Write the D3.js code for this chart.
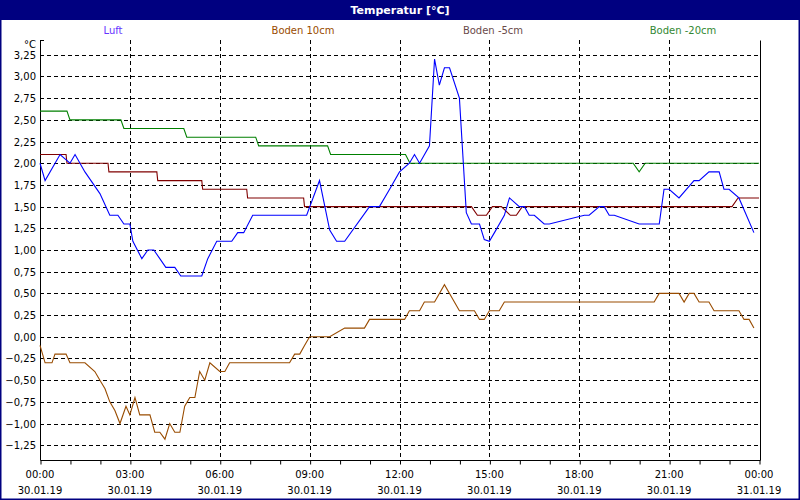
<!DOCTYPE html>
<html><head><meta charset="utf-8">
<script src="https://cdn.jsdelivr.net/npm/d3@7"></script>
<style>
body{margin:0;background:#fff}
svg{display:block;font-family:Tahoma,"DejaVu Sans",sans-serif}
</style></head><body>
<svg id="c" width="800" height="500"></svg>
<script>
// x positions in hours since 30.01.19 00:00
const luftT = [0,0.17,0.67,1,1.17,1.5,2,2.33,2.6,2.8,3,3.1,3.4,3.6,3.8,4.2,4.5,4.7,5.4,5.6,5.9,6.4,6.6,6.8,7.1,8.9,9.33,9.67,9.9,10.17,11,11.33,11.67,12,12.33,12.5,12.67,13,13.17,13.33,13.5,13.67,14,
  14.23,14.4,14.67,14.83,15,15.17,15.5,15.67,16,16.17,16.33,16.5,16.83,17,18.17,18.33,18.67,18.83,19,19.17,20,20.67,20.83,21,21.33,21.83,22,22.33,22.67,22.83,23,23.33,23.83];
const luftV = [2.0,1.8,2.1,2.0,2.1,1.9,1.65,1.4,1.4,1.3,1.3,1.1,0.9,1.0,1.0,0.8,0.8,0.7,0.7,0.9,1.1,1.1,1.2,1.2,1.4,1.4,1.8,1.23,1.1,1.1,1.5,1.5,1.7,1.9,2.0,2.1,2.0,2.2,3.2,2.9,3.1,3.1,2.75,1.43,
  1.3,1.3,1.12,1.1,1.2,1.4,1.6,1.5,1.5,1.4,1.4,1.3,1.3,1.4,1.4,1.5,1.5,1.4,1.4,1.3,1.3,1.7,1.7,1.6,1.8,1.8,1.9,1.9,1.7,1.7,1.6,1.2,0.3];

const b10T = [0,0.17,0.4,0.5,0.87,1,1.5,1.83,2,2.17,2.33,2.5,2.5,2.67,2.87,3,3.17,3.33,3.67,3.83,4,4.17,4.33,4.5,4.67,4.83,5,5.17,5.33,5.5,5.67,6,6.17,6.33,8.33,8.5,8.67,8.83,9,9.67,10.17,10.83,11,12.17,12.33,12.67,12.83,13.17,13.5,14,14.5,14.67,14.83,15,15.33,15.5,20.5,20.67,21.33,21.5,21.67,21.83,22,22.33,22.5,23.33,23.5,23.67,23.83];
const b10V = [-0.1,-0.3,-0.3,-0.2,-0.2,-0.3,-0.3,-0.4,-0.5,-0.6,-0.75,-0.85,-0.85,-1.0,-0.8,-0.9,-0.7,-0.9,-0.9,-1.1,-1.1,-1.18,-1.0,-1.1,-1.1,-0.8,-0.7,-0.7,-0.4,-0.5,-0.3,-0.4,-0.4,-0.3,-0.3,-0.2,-0.2,-0.1,0.0,0.0,0.1,0.1,0.2,0.2,0.3,0.3,0.4,0.4,0.6,0.3,0.3,0.2,0.2,0.3,0.3,0.4,0.4,0.5,0.5,0.4,0.5,0.5,0.4,0.4,0.3,0.3,0.2,0.2,0.1];

const b5T = [0,0.87,0.9,2.27,2.3,3.9,3.93,5.4,5.43,6.9,6.93,8.8,8.83,14.4,14.6,14.9,15.1,15.4,15.7,15.9,16.1,23.1,23.3,24];
const b5V = [2.1,2.1,2.0,2.0,1.9,1.9,1.8,1.8,1.7,1.7,1.6,1.6,1.5,1.5,1.4,1.4,1.5,1.5,1.4,1.4,1.5,1.5,1.6,1.6];

const b20T = [0,0.9,1.0,2.7,2.8,4.8,4.9,7.2,7.3,9.6,9.7,12.2,12.35,19.8,20.0,20.2,24];
const b20V = [2.6,2.6,2.5,2.5,2.4,2.4,2.3,2.3,2.2,2.2,2.1,2.1,2.0,2.0,1.9,2.0,2.0];

const seriesNames = ["Luft","Boden 10cm","Boden -5cm","Boden -20cm"];
const seriesColors = ["#0000ff","#994c00","#800000","#008000"];
const labelColors = ["#6633ff","#994c00","#6a4a4a","#338833"];
const xTicks = [0,3,6,9,12,15,18,21,24];
const yTicks = d3.range(-1.25, 3.26, 0.25);

const svg = d3.select("#c");
const x = d3.scaleLinear().domain([0,24]).range([40,759]);
const y = d3.scaleLinear().domain([-1.42,3.42]).range([460,40]);

// window frame
svg.append("rect").attr("x",0.5).attr("y",0.5).attr("width",799).attr("height",499)
  .attr("fill","#fff").attr("stroke","#000080").attr("stroke-width",2);
svg.append("rect").attr("x",0).attr("y",0).attr("width",800).attr("height",20).attr("fill","#000080");
svg.append("text").attr("x",400).attr("y",14).attr("text-anchor","middle")
  .attr("fill","#fff").attr("font-size",11).attr("font-weight","bold").text("Temperatur [°C]");

// legend
seriesNames.forEach((n,i) => {
  svg.append("text").attr("x",113 + i*190).attr("y",34).attr("text-anchor","middle")
    .attr("font-size",10).attr("fill",labelColors[i]).text(n);
});

// grid
const g = svg.append("g");
g.selectAll(".hg").data(yTicks).enter().append("line")
  .attr("x1",40).attr("x2",760).attr("y1",d=>Math.round(y(d))+0.5).attr("y2",d=>Math.round(y(d))+0.5)
  .attr("stroke","#000").attr("stroke-dasharray","4,3");
g.selectAll(".vg").data(xTicks.slice(1,-1)).enter().append("line")
  .attr("y1",40).attr("y2",460).attr("x1",d=>Math.round(x(d))+0.5).attr("x2",d=>Math.round(x(d))+0.5)
  .attr("stroke","#000").attr("stroke-dasharray","4,3");

// frame lines
svg.append("path").attr("d","M40.5,40.5V460.5H760.5V40.5").attr("fill","none").attr("stroke","#000");
svg.append("line").attr("x1",40).attr("x2",44).attr("y1",40.5).attr("y2",40.5).attr("stroke","#000");

// y axis labels
svg.selectAll(".yl").data(yTicks).enter().append("text")
  .attr("x",36).attr("y",d=>y(d)+4).attr("text-anchor","end").attr("font-size",10)
  .text(d=>d3.format(".2f")(d).replace(".",",").replace("-0,00","0,00"));
svg.append("text").attr("x",36).attr("y",48).attr("text-anchor","end").attr("font-size",10).text("°C");

// x axis
const xAxis = d3.axisBottom(x).tickValues(d3.range(0,25,1)).tickSize(4).tickFormat("");
svg.append("g").attr("transform","translate(0.5,460.5)").call(xAxis)
  .call(a=>a.select(".domain").remove());
svg.selectAll(".xl").data(xTicks).enter().append("text")
  .attr("x",d=>x(d)).attr("y",478).attr("text-anchor","middle").attr("font-size",10)
  .text(d=>String(d%24).padStart(2,"0")+":00");
svg.selectAll(".xd").data(xTicks).enter().append("text")
  .attr("x",d=>x(d)).attr("y",494).attr("text-anchor","middle").attr("font-size",10)
  .text(d=>d<24?"30.01.19":"31.01.19");

// series
const line = d3.line().x(d=>x(d[0])).y(d=>y(d[1]));
[[b20T,b20V],[b5T,b5V],[b10T,b10V],[luftT,luftV]].forEach((s,k) => {
  const i = 3-k;
  const pts = s[0].map((t,j)=>[t,s[1][j]]);
  svg.append("path").attr("d",line(pts)).attr("fill","none")
    .attr("stroke",seriesColors[i]).attr("stroke-width",1.1);
});
</script></body></html>
